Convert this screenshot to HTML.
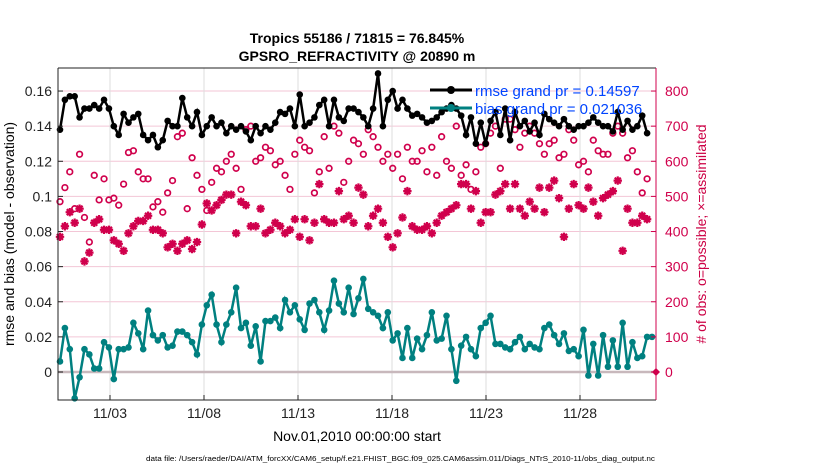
<!DOCTYPE html>
<html><head><meta charset="utf-8"><style>
body{margin:0;background:#fff;width:830px;height:470px;overflow:hidden}
svg{font-family:"Liberation Sans",sans-serif}
</style></head><body>
<svg id="chart" width="830" height="470" xmlns="http://www.w3.org/2000/svg">
<rect x="0" y="0" width="830" height="470" fill="#fff"/>
<g id="grid"></g>
<g id="marks"></g>
<g id="axes"></g>
<text x="357" y="43" text-anchor="middle" font-size="14" font-weight="bold">Tropics 55186 / 71815 = 76.845%</text>
<text x="357" y="61" text-anchor="middle" font-size="14" font-weight="bold">GPSRO_REFRACTIVITY @ 20890 m</text>
<text x="357" y="441" text-anchor="middle" font-size="14">Nov.01,2010 00:00:00 start</text>
<text x="14" y="234" text-anchor="middle" font-size="14" transform="rotate(-90 14 234)">rmse and bias (model - observation)</text>
<text x="706" y="234" text-anchor="middle" font-size="14" fill="#cc0044" transform="rotate(-90 706 234)"># of obs: o=possible; ×=assimilated</text>
<text x="146" y="461" font-size="7" textLength="509" lengthAdjust="spacingAndGlyphs">data file: /Users/raeder/DAI/ATM_forcXX/CAM6_setup/f.e21.FHIST_BGC.f09_025.CAM6assim.011/Diags_NTrS_2010-11/obs_diag_output.nc</text>
<g>
<line x1="430" y1="90" x2="472" y2="90" stroke="#000" stroke-width="3"/>
<circle cx="451" cy="90" r="4" fill="#000"/>
<text x="475" y="96" font-size="15" fill="#0044ff">rmse grand pr = 0.14597</text>
<line x1="430" y1="108" x2="472" y2="108" stroke="#008080" stroke-width="3"/>
<circle cx="451" cy="108" r="4" fill="#008080"/>
<text x="475" y="114" font-size="15" fill="#0044ff">bias grand pr = 0.021036</text>
</g>
</svg>
<script>
const rmse=[0.138,0.155,0.157,0.157,0.145,0.150,0.150,0.152,0.150,0.155,0.150,0.140,0.135,0.147,0.142,0.145,0.147,0.135,0.132,0.135,0.128,0.132,0.143,0.140,0.140,0.156,0.145,0.140,0.148,0.135,0.140,0.145,0.140,0.142,0.136,0.140,0.138,0.140,0.137,0.132,0.140,0.136,0.140,0.138,0.142,0.148,0.147,0.150,0.140,0.158,0.140,0.142,0.145,0.152,0.155,0.140,0.155,0.145,0.143,0.150,0.150,0.148,0.145,0.140,0.150,0.170,0.140,0.155,0.160,0.150,0.155,0.150,0.146,0.147,0.145,0.142,0.143,0.145,0.148,0.150,0.152,0.150,0.146,0.135,0.145,0.130,0.142,0.130,0.143,0.148,0.135,0.150,0.132,0.148,0.140,0.143,0.137,0.142,0.135,0.147,0.144,0.142,0.140,0.144,0.140,0.138,0.140,0.140,0.142,0.145,0.142,0.140,0.140,0.137,0.148,0.138,0.143,0.138,0.140,0.146,0.136];
const bias=[0.006,0.025,0.013,-0.015,-0.003,0.013,0.010,0.002,0.002,0.017,0.014,-0.004,0.013,0.013,0.014,0.028,0.022,0.013,0.035,0.021,0.018,0.021,0.014,0.015,0.023,0.023,0.021,0.017,0.010,0.027,0.038,0.044,0.027,0.017,0.027,0.034,0.048,0.025,0.028,0.015,0.026,0.006,0.029,0.029,0.031,0.025,0.041,0.034,0.038,0.030,0.024,0.039,0.041,0.034,0.024,0.035,0.052,0.039,0.034,0.048,0.033,0.042,0.053,0.036,0.034,0.032,0.025,0.034,0.018,0.022,0.008,0.025,0.008,0.019,0.013,0.021,0.034,0.018,0.019,0.032,0.013,-0.005,0.015,0.020,0.013,0.009,0.025,0.028,0.032,0.016,0.016,0.014,0.013,0.017,0.020,0.013,0.016,0.014,0.013,0.025,0.027,0.021,0.016,0.022,0.012,0.013,0.009,0.024,-0.002,0.016,-0.002,0.021,0.003,0.018,0.003,0.028,0.003,0.017,0.008,0.009,0.020,0.020];
const possible=[485,525,570,465,620,440,370,560,490,550,490,495,475,535,625,630,570,550,550,470,485,455,510,545,670,680,465,610,560,520,460,540,580,570,600,620,580,520,690,700,600,610,640,630,590,600,560,520,620,660,640,630,510,570,670,580,700,680,540,600,660,650,620,690,670,640,600,620,580,620,550,640,600,600,630,570,640,560,670,600,580,700,560,590,520,570,640,650,680,700,580,720,720,690,640,680,700,680,650,620,650,660,610,620,690,660,590,600,570,660,630,620,620,680,700,680,610,630,570,510,550];
const assimilated=[385,415,455,425,465,315,340,425,435,405,405,375,365,345,395,415,430,430,445,405,405,395,355,365,345,365,375,350,370,420,480,460,475,490,505,505,395,485,475,415,415,465,395,405,425,415,395,405,435,385,435,375,425,535,435,425,425,515,435,445,425,525,505,415,445,465,425,385,355,395,440,515,415,405,405,415,395,425,445,455,465,475,535,535,465,515,425,455,455,505,515,535,465,535,465,445,485,465,525,455,525,545,495,385,465,535,475,465,525,485,445,495,505,515,545,345,465,425,425,445,435];
const leftTicks=[0,0.02,0.04,0.06,0.08,0.1,0.12,0.14,0.16];
const leftTickLabels=["0","0.02","0.04","0.06","0.08","0.1","0.12","0.14","0.16"];
const rightTicks=[0,100,200,300,400,500,600,700,800];
const dateTicks=[2,7,12,17,22,27];
const dateLabels=["11/03","11/08","11/13","11/18","11/23","11/28"];

const NS="http://www.w3.org/2000/svg";
const L=58,R=656,T=68,B=400;
const yL=v=>372-v*1756;
const yR=v=>372-v*0.3512;
const xDay=d=>72.4+d*18.8;
const xIdx=i=>L+2+i*(R-L-6)/(Math.max(rmse.length,bias.length,possible.length,assimilated.length)-1);
function mk(tag,attrs,parent){const e=document.createElementNS(NS,tag);for(const k in attrs)e.setAttribute(k,attrs[k]);parent.appendChild(e);return e;}
const grid=document.getElementById('grid'),marks=document.getElementById('marks'),axes=document.getElementById('axes');

rightTicks.forEach(t=>{const l=mk('line',{x1:L,x2:R,y1:yR(t),y2:yR(t),stroke:'#f3c6d6','stroke-width':1},grid);

});
dateTicks.forEach(d=>{const l=mk('line',{x1:xDay(d),x2:xDay(d),y1:T,y2:B,stroke:'#ddd','stroke-width':1},grid);

});
const z=mk('line',{x1:L,x2:R,y1:yL(0),y2:yL(0),stroke:'#c8b8bc','stroke-width':2.5},grid);



possible.forEach((v,i)=>{const c=mk('circle',{cx:xIdx(i),cy:yR(v),r:2.8,fill:'none',stroke:'#d0004c','stroke-width':1.7},marks);

});
assimilated.forEach((v,i)=>{const x=xIdx(i),y=yR(v);const g=mk('path',{d:`M${x-4.2},${y}H${x+4.2}M${x},${y-4.2}V${y+4.2}M${x-3},${y-3}L${x+3},${y+3}M${x-3},${y+3}L${x+3},${y-3}`,stroke:'#d0004c','stroke-width':2.2},marks);

});
function series(arr,col,name){
 const p=mk('polyline',{points:arr.map((v,i)=>xIdx(i)+','+yL(v)).join(' '),fill:'none',stroke:col,'stroke-width':2.5},marks);
 
 
 arr.forEach((v,i)=>{const c=mk('circle',{cx:xIdx(i),cy:yL(v),r:3.3,fill:col},marks);
 
 });
}
series(rmse,'#000','rmse');
series(bias,'#008080','bias');
const dm=mk('path',{d:`M${R},${yL(0)-4}L${R+4},${yL(0)}L${R},${yL(0)+4}L${R-4},${yL(0)}Z`,fill:'#d0004c'},marks);



const box=mk('path',{d:`M${L},${T}H${R}M${L},${T}V${B}H${R}`,fill:'none',stroke:'#222','stroke-width':1},axes);


const ra=mk('line',{x1:R,x2:R,y1:T,y2:B,stroke:'#d0004c','stroke-width':1},axes);


leftTicks.forEach((t,i)=>{mk('line',{x1:L,x2:L+5,y1:yL(t),y2:yL(t),stroke:'#222'},axes);
const tx=mk('text',{x:L-6,y:yL(t)+5,'text-anchor':'end','font-size':14,fill:'#222'},axes);tx.textContent=leftTickLabels[i];

});
rightTicks.forEach(t=>{mk('line',{x1:R-5,x2:R,y1:yR(t),y2:yR(t),stroke:'#d0004c'},axes);
const tx=mk('text',{x:R+9,y:yR(t)+5,'font-size':14,fill:'#d0004c'},axes);tx.textContent=t;

});
dateTicks.forEach((d,i)=>{mk('line',{x1:xDay(d),x2:xDay(d),y1:B,y2:B-5,stroke:'#222'},axes);
const tx=mk('text',{x:xDay(d),y:B+18,'text-anchor':'middle','font-size':14,fill:'#222'},axes);tx.textContent=dateLabels[i];

});
</script>
</body></html>
